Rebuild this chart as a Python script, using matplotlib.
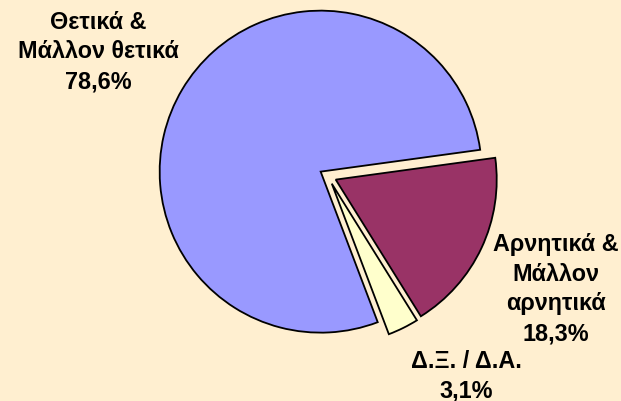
import matplotlib
matplotlib.use("Agg")
import matplotlib.pyplot as plt

# data
labels = ['Αρνητικά &\nΜάλλον\nαρνητικά\n18,3%', 'Δ.Ξ. / Δ.Α.\n3,1%', 'Θετικά &\nΜάλλον θετικά\n78,6%']
values = [18.3, 3.1, 78.6]
colors = ['#993366', '#FFFFCC', '#9999FF']

W, H = 621, 401
cx, cy, r = 328, 176, 161   # pie centre / radius in pixels

plt.rcParams['font.family'] = ['Liberation Sans', 'DejaVu Sans']
fig = plt.figure(figsize=(W / 100, H / 100), dpi=100, facecolor='#FFEFD0')
ax = fig.add_axes([0, 0, 1, 1])
ax.set_facecolor('#FFEFD0')

ax.pie(values, colors=colors, startangle=7.8, counterclock=False,
       explode=[0.053] * 3, radius=1,
       wedgeprops=dict(edgecolor='black', linewidth=1.3))
ax.set_aspect('auto')
ax.set_xlim(-cx / r, (W - cx) / r)
ax.set_ylim(-(H - cy) / r, cy / r)
ax.axis('off')

# label positions (pixels from top-left)
label_pos = [(556, 289), (466, 376), (98, 52)]
for txt, (px, py) in zip(labels, label_pos):
    fig.text(px / W, 1 - py / H, txt, ha='center', va='center',
             fontsize=16.8, fontweight='bold', linespacing=1.38, color='black')

fig.savefig('out.png', dpi=100, facecolor=fig.get_facecolor())
